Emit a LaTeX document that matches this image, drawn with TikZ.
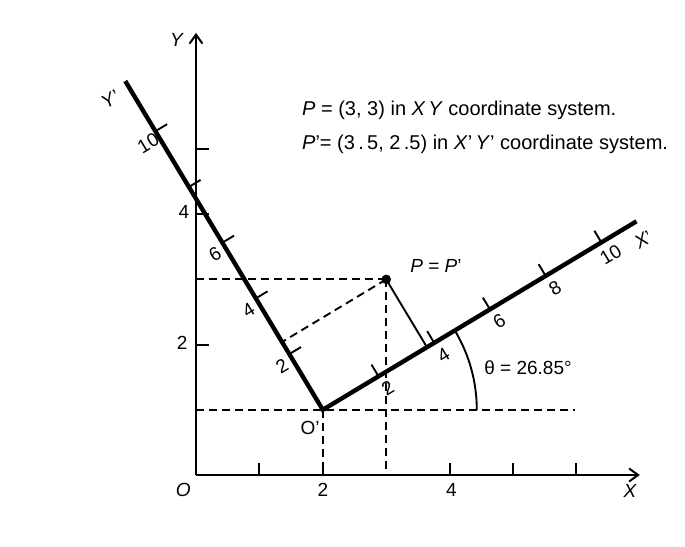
\documentclass[tikz,border=0pt]{standalone}
\usepackage{fontspec}
\setmainfont{Liberation Sans}
\usetikzlibrary{arrows.meta,calc}
\begin{document}
\begin{tikzpicture}[x=1pt,y=-1pt,
  axisline/.style={line width=2pt},
  primeaxis/.style={line width=4.4pt},
  dashline/.style={line width=1.9pt, dash pattern=on 8pt off 5pt},
  tickmark/.style={line width=1.9pt},
  lbl/.style={font=\fontsize{19}{21}\selectfont, inner sep=0pt},
  txt/.style={font=\fontsize{20}{22}\selectfont, inner sep=0pt, anchor=west}]
\useasboundingbox (0,0) rectangle (685,546);
\fill[white] (0,0) rectangle (685,546);

% XY frame
\begin{scope}[shift={(196,475)}, x=63.4pt, y=65.2pt]
  \coordinate (O) at (0,0);
  \coordinate (Xend) at (7,0);
  \coordinate (Yend) at (0,6.78);
  \coordinate (Op) at (2,1);
  \coordinate (P) at (3,3);
  \coordinate (Hend) at (5.97,1);
  \foreach \i in {1,2,4,5,6} \draw[tickmark] (\i,0) -- ++(0,0.19);
  \foreach \j in {2,4,5} \draw[tickmark] (0,\j) -- ++(0.2,0);
  \node[lbl] (xl2) at (2,-0.23) {2};
  \node[lbl] (xl4) at (4.03,-0.23) {4};
  \node[lbl] (yl2) at (-0.22,2.03) {2};
  \node[lbl] (yl4) at (-0.19,4.03) {4};
  \node[lbl] (Olbl) at (-0.2,-0.23) {\textit{O}};
  \node[lbl] (Xlbl) at (6.85,-0.24) {\textit{X}};
  \node[lbl] (Ylbl) at (-0.3,6.67) {\textit{Y}};
\end{scope}

% dashed construction lines
\draw[dashline] (Op -| O) -- (Hend);
\draw[dashline] (P -| O) -- (P);
\draw[dashline] (P) -- (P |- O);
\draw[dashline] (Op) -- (Op |- O);

% XY axes
\draw[axisline, -{Straight Barb[length=9pt,width=13pt,line width=2pt]}] (O) -- (Xend);
\draw[axisline, -{Straight Barb[length=9pt,width=13pt,line width=2pt]}] (O) -- (Yend);

% X'Y' frame
\begin{scope}[shift={(Op)}, rotate=31, x=32.5pt, y=32.5pt]
  \coordinate (Xpend) at (11.26,0);
  \coordinate (Ypend) at (0,11.8);
  \foreach \i in {2,4,...,10} \draw[tickmark] (\i,0) -- (\i,0.42);
  \foreach \j in {2,4,...,10} \draw[tickmark] (0,\j) -- (0.42,\j);
  \foreach \i in {2,4,...,10} \node[lbl, rotate=31] (xpl\i) at (\i+0.05,-0.47) {\i};
  \foreach \j in {2,4,6,10} \node[lbl, rotate=31] (ypl\j) at (-0.38,\j-0.2) {\j};
  \node[lbl, rotate=31] (Xplbl) at (11.15,-0.6) {\textit{X}’};
  \node[lbl, rotate=31] (Yplbl) at (-0.68,11.55) {\textit{Y}’};
\end{scope}

% projections of P
\coordinate (Fx) at ($(Op)!(P)!(Xpend)$);
\coordinate (Fy) at ($(Op)!(P)!(Ypend)$);
\draw[dashline] (P) -- (Fy);
\draw[tickmark] (P) -- (Fx);

% X'Y' axes
\draw[primeaxis] (Ypend) -- (Op) -- (Xpend);
\node[lbl] (Oplbl) at (310,428) {O’};

% angle
\coordinate (A0) at ($(Op)+(154pt,0)$);
\draw[tickmark] (A0) arc[start angle=0, end angle=31, radius=154pt];
\node[lbl] (theta) at (528,368) {θ = 26.85°};

% point P
\fill (P) circle[radius=4.8pt];
\node[lbl] (Plbl) at (436,266) {\textit{P} = \textit{P}’};

% statements
\node[txt] (t1) at (302,110) {\textit{P} = (3, 3) in \textit{X\,Y} coordinate system.};
\node[txt] (t2) at (302,144) {\textit{P}’= (3\,.\,5, 2\,.5) in \textit{X}’\,\textit{Y}’ coordinate system.};
\end{tikzpicture}
\end{document}
